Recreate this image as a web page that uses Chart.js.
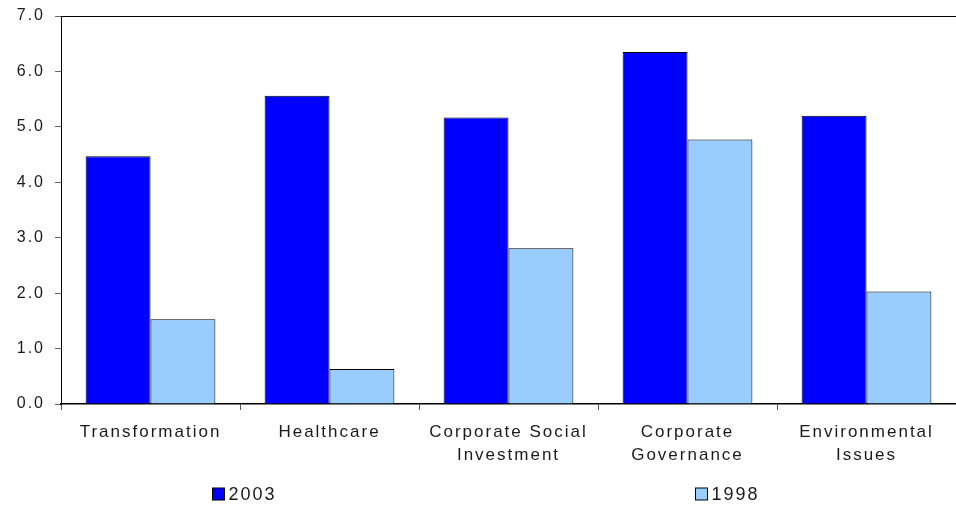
<!DOCTYPE html>
<html>
<head>
<meta charset="utf-8">
<script src="https://cdn.jsdelivr.net/npm/chart.js@4/dist/chart.umd.min.js"></script>
<style>
  html, body { margin: 0; padding: 0; background: #fff; }
  #wrap { width: 956px; height: 507px; }
</style>
</head>
<body>
<div id="wrap"><canvas id="c"></canvas></div>
<script>
// Category labels (multi-line where the axis wraps them)
const categories = [
  "Transformation",
  "Healthcare",
  ["Corporate Social", "Investment"],
  ["Corporate", "Governance"],
  ["Environmental", "Issues"]
];
const seriesNames = ["2003", "1998"];
const values2003 = [4.47, 5.56, 5.17, 6.35, 5.20];
const values1998 = [1.53, 0.63, 2.81, 4.77, 2.03];
const yMin = 0, yMax = 7, yStep = 1;

const FONT = "'Liberation Sans', Arial, sans-serif";
const TEXT = "#1a1a1a";
const TRACKING = "2px";

// Wider tracking on all canvas text
const spacing = {
  id: "spacing",
  beforeLayout(chart) { chart.ctx.letterSpacing = TRACKING; },
  beforeDraw(chart) { chart.ctx.letterSpacing = TRACKING; }
};

// Legend spread across the bottom of the canvas
const spreadLegend = {
  id: "spreadLegend",
  afterDraw(chart) {
    const ctx = chart.ctx;
    const fractions = [0.222, 0.727];
    const y = chart.height - 13;
    ctx.save();
    ctx.letterSpacing = TRACKING;
    ctx.font = "18px " + FONT;
    ctx.textBaseline = "middle";
    ctx.textAlign = "left";
    chart.data.datasets.forEach((ds, i) => {
      const x = Math.round(chart.width * fractions[i]) + 0.5;
      ctx.fillStyle = ds.backgroundColor;
      ctx.fillRect(x, y - 6, 12, 12);
      ctx.strokeStyle = "#000";
      ctx.lineWidth = 1;
      ctx.strokeRect(x, y - 6, 12, 12);
      ctx.fillStyle = TEXT;
      ctx.fillText(ds.label, x + 16, y + 1);
    });
    ctx.restore();
  }
};

new Chart(document.getElementById("c"), {
  type: "bar",
  data: {
    labels: categories,
    datasets: [
      { label: seriesNames[0], data: values2003, backgroundColor: "#0000FF",
        borderColor: "#000", borderWidth: 1 },
      { label: seriesNames[1], data: values1998, backgroundColor: "#99CCFF",
        borderColor: "#000", borderWidth: 1 }
    ]
  },
  plugins: [spacing, spreadLegend],
  options: {
    responsive: true,
    maintainAspectRatio: false,
    animation: false,
    layout: { padding: { top: 0, left: 0, right: 0, bottom: 0 } },
    datasets: { bar: { barPercentage: 1, categoryPercentage: 0.725 } },
    plugins: { legend: { display: false }, tooltip: { enabled: false } },
    scales: {
      x: {
        grid: { offset: true, drawOnChartArea: false, tickLength: 6, tickColor: "#555", lineWidth: 1 },
        border: { color: "#000", width: 1.5 },
        ticks: { color: TEXT, font: { family: FONT, size: 17, lineHeight: 1.35 }, padding: 11, maxRotation: 0, autoSkip: false },
        afterFit(scale) { scale.height = 103; }
      },
      y: {
        min: yMin, max: yMax,
        grid: {
          drawOnChartArea: true,
          color: ctx => (ctx.tick && ctx.tick.value === yMax) ? "#000" : "rgba(0,0,0,0)",
          tickColor: "#666", tickLength: 6, lineWidth: 1
        },
        border: { color: "#000", width: 1 },
        ticks: {
          stepSize: yStep, color: TEXT, padding: 10,
          font: { family: FONT, size: 16, lineHeight: 0.75 },
          callback: v => Number(v).toFixed(1)
        },
        afterFit(scale) { scale.width = 61; }
      }
    }
  }
});
</script>
</body>
</html>
